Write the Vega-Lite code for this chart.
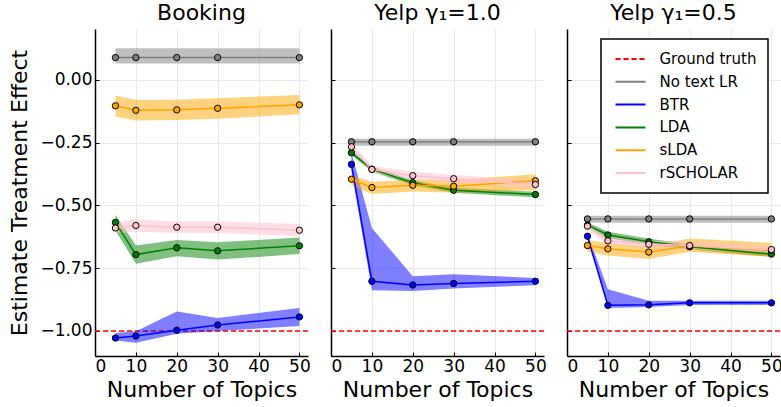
{
  "$schema": "https://vega.github.io/schema/vega-lite/v6.json",
  "padding": {"left": 8, "top": 2, "right": 1, "bottom": 2},
  "bounds": "flush",
  "config": {
    "font": "DejaVu Sans",
    "view": {"stroke": null},
    "title": {"fontSize": 22, "fontWeight": "normal", "color": "black", "offset": 4},
    "axis": {
      "labelFontSize": 17, "labelColor": "black", "titleFontSize": 22, "titleFontWeight": "normal", "titleColor": "black",
      "domainColor": "black", "domainWidth": 1.5, "tickColor": "black", "tickSize": -4, "tickWidth": 1,
      "gridColor": "#e8e8e8", "gridWidth": 1
    },
    "legend": {
      "orient": "none", "legendX": 34, "legendY": 10, "padding": 11.5, "symbolOffset": 9.5, "strokeColor": "black", "strokeWidth": 1.5, "fillColor": "white",
      "symbolType": "M-2,0H2", "symbolSize": 225, "symbolStrokeWidth": 2, "labelFontSize": 15, "labelOffset": 20.5,
      "rowPadding": 5.8, "labelColor": "black"
    }
  },
  "datasets": {
    "d": [
      {"p":"Booking","m":"Ground truth","t":null,"e":-1,"lo":null,"hi":null},
      {"p":"Booking","m":"No text LR","t":5,"e":0.088,"lo":0.064,"hi":0.125},
      {"p":"Booking","m":"No text LR","t":10,"e":0.088,"lo":0.064,"hi":0.125},
      {"p":"Booking","m":"No text LR","t":20,"e":0.088,"lo":0.064,"hi":0.125},
      {"p":"Booking","m":"No text LR","t":30,"e":0.088,"lo":0.064,"hi":0.125},
      {"p":"Booking","m":"No text LR","t":50,"e":0.088,"lo":0.064,"hi":0.125},
      {"p":"Booking","m":"BTR","t":5,"e":-1.028,"lo":-1.038,"hi":-1.008},
      {"p":"Booking","m":"BTR","t":10,"e":-1.020,"lo":-1.047,"hi":-1.001},
      {"p":"Booking","m":"BTR","t":20,"e":-0.997,"lo":-1.011,"hi":-0.922},
      {"p":"Booking","m":"BTR","t":30,"e":-0.976,"lo":-1.000,"hi":-0.948},
      {"p":"Booking","m":"BTR","t":50,"e":-0.944,"lo":-0.980,"hi":-0.908},
      {"p":"Booking","m":"LDA","t":5,"e":-0.568,"lo":-0.600,"hi":-0.537},
      {"p":"Booking","m":"LDA","t":10,"e":-0.696,"lo":-0.732,"hi":-0.660},
      {"p":"Booking","m":"LDA","t":20,"e":-0.669,"lo":-0.703,"hi":-0.638},
      {"p":"Booking","m":"LDA","t":30,"e":-0.681,"lo":-0.716,"hi":-0.647},
      {"p":"Booking","m":"LDA","t":50,"e":-0.661,"lo":-0.694,"hi":-0.628},
      {"p":"Booking","m":"sLDA","t":5,"e":-0.104,"lo":-0.146,"hi":-0.064},
      {"p":"Booking","m":"sLDA","t":10,"e":-0.122,"lo":-0.162,"hi":-0.081},
      {"p":"Booking","m":"sLDA","t":20,"e":-0.120,"lo":-0.160,"hi":-0.080},
      {"p":"Booking","m":"sLDA","t":30,"e":-0.114,"lo":-0.155,"hi":-0.074},
      {"p":"Booking","m":"sLDA","t":50,"e":-0.100,"lo":-0.138,"hi":-0.061},
      {"p":"Booking","m":"rSCHOLAR","t":5,"e":-0.590,"lo":-0.612,"hi":-0.568},
      {"p":"Booking","m":"rSCHOLAR","t":10,"e":-0.580,"lo":-0.605,"hi":-0.555},
      {"p":"Booking","m":"rSCHOLAR","t":20,"e":-0.587,"lo":-0.610,"hi":-0.563},
      {"p":"Booking","m":"rSCHOLAR","t":30,"e":-0.587,"lo":-0.610,"hi":-0.563},
      {"p":"Booking","m":"rSCHOLAR","t":50,"e":-0.599,"lo":-0.624,"hi":-0.574},

      {"p":"Yelp1","m":"Ground truth","t":null,"e":-1,"lo":null,"hi":null},
      {"p":"Yelp1","m":"No text LR","t":5,"e":-0.247,"lo":-0.263,"hi":-0.235},
      {"p":"Yelp1","m":"No text LR","t":10,"e":-0.247,"lo":-0.263,"hi":-0.235},
      {"p":"Yelp1","m":"No text LR","t":20,"e":-0.247,"lo":-0.263,"hi":-0.235},
      {"p":"Yelp1","m":"No text LR","t":30,"e":-0.247,"lo":-0.263,"hi":-0.235},
      {"p":"Yelp1","m":"No text LR","t":50,"e":-0.247,"lo":-0.263,"hi":-0.235},
      {"p":"Yelp1","m":"BTR","t":5,"e":-0.337,"lo":-0.360,"hi":-0.290},
      {"p":"Yelp1","m":"BTR","t":10,"e":-0.802,"lo":-0.838,"hi":-0.590},
      {"p":"Yelp1","m":"BTR","t":20,"e":-0.817,"lo":-0.841,"hi":-0.782},
      {"p":"Yelp1","m":"BTR","t":30,"e":-0.811,"lo":-0.831,"hi":-0.774},
      {"p":"Yelp1","m":"BTR","t":50,"e":-0.802,"lo":-0.818,"hi":-0.789},
      {"p":"Yelp1","m":"LDA","t":5,"e":-0.291,"lo":-0.300,"hi":-0.282},
      {"p":"Yelp1","m":"LDA","t":10,"e":-0.356,"lo":-0.366,"hi":-0.346},
      {"p":"Yelp1","m":"LDA","t":20,"e":-0.410,"lo":-0.420,"hi":-0.400},
      {"p":"Yelp1","m":"LDA","t":30,"e":-0.440,"lo":-0.450,"hi":-0.430},
      {"p":"Yelp1","m":"LDA","t":50,"e":-0.457,"lo":-0.468,"hi":-0.446},
      {"p":"Yelp1","m":"sLDA","t":5,"e":-0.396,"lo":-0.420,"hi":-0.380},
      {"p":"Yelp1","m":"sLDA","t":10,"e":-0.429,"lo":-0.455,"hi":-0.406},
      {"p":"Yelp1","m":"sLDA","t":20,"e":-0.420,"lo":-0.445,"hi":-0.398},
      {"p":"Yelp1","m":"sLDA","t":30,"e":-0.424,"lo":-0.450,"hi":-0.400},
      {"p":"Yelp1","m":"sLDA","t":50,"e":-0.402,"lo":-0.440,"hi":-0.376},
      {"p":"Yelp1","m":"rSCHOLAR","t":5,"e":-0.267,"lo":-0.282,"hi":-0.252},
      {"p":"Yelp1","m":"rSCHOLAR","t":10,"e":-0.357,"lo":-0.372,"hi":-0.342},
      {"p":"Yelp1","m":"rSCHOLAR","t":20,"e":-0.382,"lo":-0.398,"hi":-0.366},
      {"p":"Yelp1","m":"rSCHOLAR","t":30,"e":-0.394,"lo":-0.410,"hi":-0.378},
      {"p":"Yelp1","m":"rSCHOLAR","t":50,"e":-0.417,"lo":-0.433,"hi":-0.401},

      {"p":"Yelp05","m":"Ground truth","t":null,"e":-1,"lo":null,"hi":null},
      {"p":"Yelp05","m":"No text LR","t":5,"e":-0.554,"lo":-0.569,"hi":-0.541},
      {"p":"Yelp05","m":"No text LR","t":10,"e":-0.554,"lo":-0.569,"hi":-0.541},
      {"p":"Yelp05","m":"No text LR","t":20,"e":-0.554,"lo":-0.569,"hi":-0.541},
      {"p":"Yelp05","m":"No text LR","t":30,"e":-0.554,"lo":-0.569,"hi":-0.541},
      {"p":"Yelp05","m":"No text LR","t":50,"e":-0.554,"lo":-0.569,"hi":-0.541},
      {"p":"Yelp05","m":"BTR","t":5,"e":-0.623,"lo":-0.632,"hi":-0.612},
      {"p":"Yelp05","m":"BTR","t":10,"e":-0.898,"lo":-0.908,"hi":-0.834},
      {"p":"Yelp05","m":"BTR","t":20,"e":-0.896,"lo":-0.905,"hi":-0.880},
      {"p":"Yelp05","m":"BTR","t":30,"e":-0.888,"lo":-0.897,"hi":-0.880},
      {"p":"Yelp05","m":"BTR","t":50,"e":-0.888,"lo":-0.896,"hi":-0.880},
      {"p":"Yelp05","m":"LDA","t":5,"e":-0.579,"lo":-0.590,"hi":-0.568},
      {"p":"Yelp05","m":"LDA","t":10,"e":-0.618,"lo":-0.631,"hi":-0.605},
      {"p":"Yelp05","m":"LDA","t":20,"e":-0.645,"lo":-0.657,"hi":-0.633},
      {"p":"Yelp05","m":"LDA","t":30,"e":-0.665,"lo":-0.676,"hi":-0.654},
      {"p":"Yelp05","m":"LDA","t":50,"e":-0.694,"lo":-0.705,"hi":-0.683},
      {"p":"Yelp05","m":"sLDA","t":5,"e":-0.660,"lo":-0.685,"hi":-0.639},
      {"p":"Yelp05","m":"sLDA","t":10,"e":-0.673,"lo":-0.700,"hi":-0.650},
      {"p":"Yelp05","m":"sLDA","t":20,"e":-0.686,"lo":-0.714,"hi":-0.662},
      {"p":"Yelp05","m":"sLDA","t":30,"e":-0.662,"lo":-0.685,"hi":-0.632},
      {"p":"Yelp05","m":"sLDA","t":50,"e":-0.678,"lo":-0.705,"hi":-0.649},
      {"p":"Yelp05","m":"rSCHOLAR","t":5,"e":-0.583,"lo":-0.598,"hi":-0.568},
      {"p":"Yelp05","m":"rSCHOLAR","t":10,"e":-0.641,"lo":-0.656,"hi":-0.626},
      {"p":"Yelp05","m":"rSCHOLAR","t":20,"e":-0.655,"lo":-0.670,"hi":-0.640},
      {"p":"Yelp05","m":"rSCHOLAR","t":30,"e":-0.660,"lo":-0.675,"hi":-0.645},
      {"p":"Yelp05","m":"rSCHOLAR","t":50,"e":-0.676,"lo":-0.691,"hi":-0.661}
    ]
  },
  "spacing": 23,
  "resolve": {
    "scale": {"color": "independent", "fill": "independent", "strokeDash": "independent"},
    "legend": {"color": "independent", "fill": "independent", "strokeDash": "independent"}
  },
  "hconcat": [
    {
      "width": 213, "height": 327,
      "title": "Booking",
      "data": {"name": "d"},
      "transform": [{"filter": "datum.p === 'Booking'"}],
      "encoding": {
        "x": {"field": "t", "type": "quantitative", "scale": {"domain": [0, 52.1], "nice": false, "zero": false},
              "axis": {"values": [0,10,20,30,40,50], "title": "Number of Topics", "labelPadding": 6, "titlePadding": 5}}
      },
      "layer": [
        {"transform": [{"filter": "datum.m === 'Ground truth'"}], "mark": {"type": "rule", "strokeWidth": 1.3},
         "encoding": {"x": null,
           "y": {"field": "e", "type": "quantitative", "scale": {"domain": [-1.0995, 0.2017], "nice": false, "zero": false},
                 "axis": {"values": [-1,-0.75,-0.5,-0.25,0], "format": ".2f", "title": "Estimate Treatment Effect", "labelPadding": 7, "titlePadding": 8}},
           "color": {"field": "m", "type": "nominal", "legend": null, "scale": {"domain": ["Ground truth","No text LR","BTR","LDA","sLDA","rSCHOLAR"], "range": ["#ff0000","#808080","#0000ff","#008000","#ffa500","#ffc0cb"]}},
           "strokeDash": {"field": "m", "type": "nominal", "legend": null, "scale": {"domain": ["Ground truth","No text LR","BTR","LDA","sLDA","rSCHOLAR"], "range": [[5,3],[1,0],[1,0],[1,0],[1,0],[1,0]]}}}},
        {"transform": [{"filter": "datum.m !== 'Ground truth'"}], "mark": {"type": "area", "opacity": 0.5},
         "encoding": {"y": {"field": "lo", "type": "quantitative"}, "y2": {"field": "hi"},
           "fill": {"field": "m", "type": "nominal", "legend": null, "scale": {"domain": ["Ground truth","No text LR","BTR","LDA","sLDA","rSCHOLAR"], "range": ["#ff0000","#808080","#0000ff","#008000","#ffa500","#ffc0cb"]}}}},
        {"transform": [{"filter": "datum.m !== 'Ground truth'"}], "mark": {"type": "line", "strokeWidth": 1.5},
         "encoding": {"y": {"field": "e", "type": "quantitative"}, "color": {"field": "m", "type": "nominal", "legend": null}}},
        {"transform": [{"filter": "datum.m !== 'Ground truth'"}], "mark": {"type": "point", "filled": true, "stroke": "black", "strokeWidth": 1, "size": 40, "opacity": 1},
         "encoding": {"y": {"field": "e", "type": "quantitative"}, "fill": {"field": "m", "type": "nominal", "legend": null}}}
      ]
    },
    {
      "width": 213, "height": 327,
      "title": "Yelp γ₁=1.0",
      "data": {"name": "d"},
      "transform": [{"filter": "datum.p === 'Yelp1'"}],
      "encoding": {
        "x": {"field": "t", "type": "quantitative", "scale": {"domain": [0, 52.1], "nice": false, "zero": false},
              "axis": {"values": [0,10,20,30,40,50], "title": "Number of Topics", "labelPadding": 6, "titlePadding": 5}}
      },
      "layer": [
        {"transform": [{"filter": "datum.m === 'Ground truth'"}], "mark": {"type": "rule", "strokeWidth": 1.3},
         "encoding": {"x": null,
           "y": {"field": "e", "type": "quantitative", "scale": {"domain": [-1.0995, 0.2017], "nice": false, "zero": false},
                 "axis": {"values": [-1,-0.75,-0.5,-0.25,0], "labels": false, "title": null}},
           "color": {"field": "m", "type": "nominal", "legend": null, "scale": {"domain": ["Ground truth","No text LR","BTR","LDA","sLDA","rSCHOLAR"], "range": ["#ff0000","#808080","#0000ff","#008000","#ffa500","#ffc0cb"]}},
           "strokeDash": {"field": "m", "type": "nominal", "legend": null, "scale": {"domain": ["Ground truth","No text LR","BTR","LDA","sLDA","rSCHOLAR"], "range": [[5,3],[1,0],[1,0],[1,0],[1,0],[1,0]]}}}},
        {"transform": [{"filter": "datum.m !== 'Ground truth'"}], "mark": {"type": "area", "opacity": 0.5},
         "encoding": {"y": {"field": "lo", "type": "quantitative"}, "y2": {"field": "hi"},
           "fill": {"field": "m", "type": "nominal", "legend": null, "scale": {"domain": ["Ground truth","No text LR","BTR","LDA","sLDA","rSCHOLAR"], "range": ["#ff0000","#808080","#0000ff","#008000","#ffa500","#ffc0cb"]}}}},
        {"transform": [{"filter": "datum.m !== 'Ground truth'"}], "mark": {"type": "line", "strokeWidth": 1.5},
         "encoding": {"y": {"field": "e", "type": "quantitative"}, "color": {"field": "m", "type": "nominal", "legend": null}}},
        {"transform": [{"filter": "datum.m !== 'Ground truth'"}], "mark": {"type": "point", "filled": true, "stroke": "black", "strokeWidth": 1, "size": 40, "opacity": 1},
         "encoding": {"y": {"field": "e", "type": "quantitative"}, "fill": {"field": "m", "type": "nominal", "legend": null}}}
      ]
    },
    {
      "width": 213, "height": 327,
      "title": "Yelp γ₁=0.5",
      "data": {"name": "d"},
      "transform": [{"filter": "datum.p === 'Yelp05'"}],
      "encoding": {
        "x": {"field": "t", "type": "quantitative", "scale": {"domain": [0, 52.1], "nice": false, "zero": false},
              "axis": {"values": [0,10,20,30,40,50], "title": "Number of Topics", "labelPadding": 6, "titlePadding": 5}}
      },
      "layer": [
        {"transform": [{"filter": "datum.m === 'Ground truth'"}], "mark": {"type": "rule", "strokeWidth": 1.3},
         "encoding": {"x": null,
           "y": {"field": "e", "type": "quantitative", "scale": {"domain": [-1.0995, 0.2017], "nice": false, "zero": false},
                 "axis": {"values": [-1,-0.75,-0.5,-0.25,0], "labels": false, "title": null}},
           "color": {"field": "m", "type": "nominal", "legend": {"title": null}, "scale": {"domain": ["Ground truth","No text LR","BTR","LDA","sLDA","rSCHOLAR"], "range": ["#ff0000","#808080","#0000ff","#008000","#ffa500","#ffc0cb"]}},
           "strokeDash": {"field": "m", "type": "nominal", "legend": {"title": null}, "scale": {"domain": ["Ground truth","No text LR","BTR","LDA","sLDA","rSCHOLAR"], "range": [[5,3],[1,0],[1,0],[1,0],[1,0],[1,0]]}}}},
        {"transform": [{"filter": "datum.m !== 'Ground truth'"}], "mark": {"type": "area", "opacity": 0.5},
         "encoding": {"y": {"field": "lo", "type": "quantitative"}, "y2": {"field": "hi"},
           "fill": {"field": "m", "type": "nominal", "legend": null, "scale": {"domain": ["Ground truth","No text LR","BTR","LDA","sLDA","rSCHOLAR"], "range": ["#ff0000","#808080","#0000ff","#008000","#ffa500","#ffc0cb"]}}}},
        {"transform": [{"filter": "datum.m !== 'Ground truth'"}], "mark": {"type": "line", "strokeWidth": 1.5},
         "encoding": {"y": {"field": "e", "type": "quantitative"}, "color": {"field": "m", "type": "nominal", "legend": {"title": null}}}},
        {"transform": [{"filter": "datum.m !== 'Ground truth'"}], "mark": {"type": "point", "filled": true, "stroke": "black", "strokeWidth": 1, "size": 40, "opacity": 1},
         "encoding": {"y": {"field": "e", "type": "quantitative"}, "fill": {"field": "m", "type": "nominal", "legend": null}}}
      ]
    }
  ]
}
